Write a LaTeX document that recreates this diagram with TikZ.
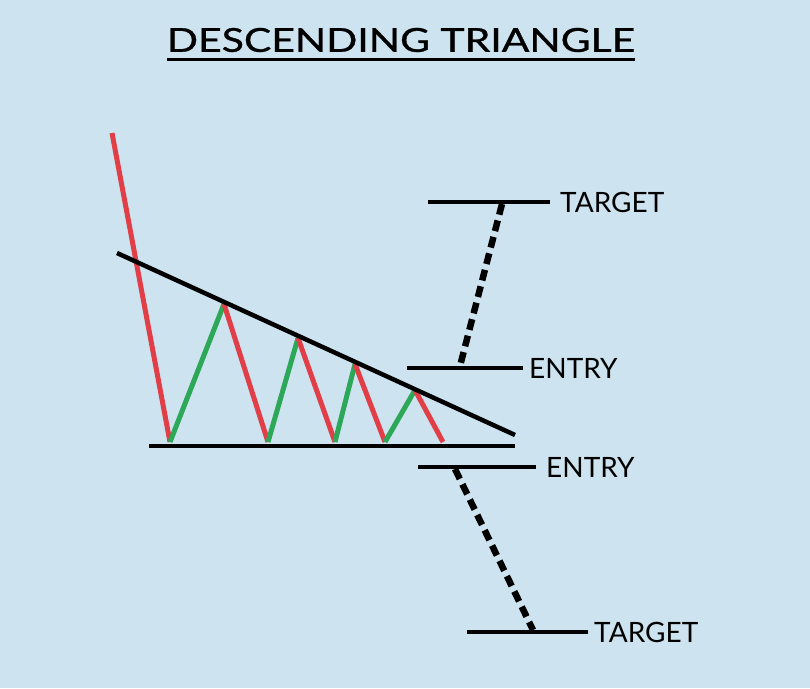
\documentclass[tikz,border=0pt]{standalone}
\usepackage{fontspec}
\setmainfont{Lato}
\usepackage{xcolor}
\usetikzlibrary{positioning}

\definecolor{skyback}{RGB}{205,228,240}
\definecolor{legred}{RGB}{226,62,72}
\definecolor{leggreen}{RGB}{44,168,88}

\begin{document}
\begin{tikzpicture}[
  x=1pt, y=-1pt,
  trend/.style={draw=black, line width=4.5pt},
  fall/.style={draw=legred, line width=5pt},
  rise/.style={draw=leggreen, line width=5pt},
  bar/.style={draw=black, line width=4.5pt},
  move/.style={draw=black, line width=6.5pt, dash pattern=on 11pt off 6pt},
  lbl/.style={inner sep=0pt, anchor=west, font=\fontsize{28}{30}\selectfont}
]
\useasboundingbox[fill=skyback] (0,0) rectangle (810,688);

% Title
\node[inner sep=0pt, font=\fontsize{33}{36}\selectfont\addfontfeature{FakeBold=0.8}] (title) at (401,40)
  {\scalebox{1.24}[1]{DESCENDING TRIANGLE}};
\draw[line width=2.5pt] ([yshift=-7pt]title.south west) -- ([yshift=-7pt]title.south east);

% Price path
\coordinate (p0) at (112,133);
\coordinate (p1) at (170,442);
\coordinate (p2) at (224,304);
\coordinate (p3) at (268,442);
\coordinate (p4) at (298,338);
\coordinate (p5) at (335,442);
\coordinate (p6) at (355,364);
\coordinate (p7) at (385,442);
\coordinate (p8) at (415,390);
\coordinate (p9) at (443,442);

\draw[fall] (p0) -- (p1);
\draw[rise] (p1) -- (p2);
\draw[fall] (p2) -- (p3);
\draw[rise] (p3) -- (p4);
\draw[fall] (p4) -- (p5);
\draw[rise] (p5) -- (p6);
\draw[fall] (p6) -- (p7);
\draw[rise] (p7) -- (p8);
\draw[fall] (p8) -- (p9);

% Trend lines
\coordinate (resA) at (117,253);
\coordinate (resB) at (515,435);
\coordinate (supA) at (149,446);
\coordinate (supB) at (515,446);
\draw[trend] (resA) -- (resB);
\draw[trend] (supA) -- (supB);

% Upper levels
\coordinate (tgtUpL) at (428,202);
\coordinate (tgtUpR) at (550,202);
\coordinate (entUpL) at (407,368);
\coordinate (entUpR) at (523,368);
\draw[bar] (tgtUpL) -- (tgtUpR);
\draw[bar] (entUpL) -- (entUpR);
\node[lbl, right=10pt of tgtUpR] (tgtUpText) {TARGET};
\node[lbl, right=6pt of entUpR] (entUpText) {ENTRY};

\coordinate (moveUpA) at (502,204);
\coordinate (moveUpB) at (460,366);
\draw[move] (moveUpA) -- (moveUpB);

% Lower levels
\coordinate (entDnL) at (418,467);
\coordinate (entDnR) at (536,467);
\coordinate (tgtDnL) at (467,632);
\coordinate (tgtDnR) at (588,632);
\draw[bar] (entDnL) -- (entDnR);
\draw[bar] (tgtDnL) -- (tgtDnR);
\node[lbl, right=10pt of entDnR] (entDnText) {ENTRY};
\node[lbl, right=6pt of tgtDnR] (tgtDnText) {TARGET};

\coordinate (moveDnA) at (455,469);
\coordinate (moveDnB) at (533,630);
\draw[move] (moveDnA) -- (moveDnB);

\end{tikzpicture}
\end{document}
